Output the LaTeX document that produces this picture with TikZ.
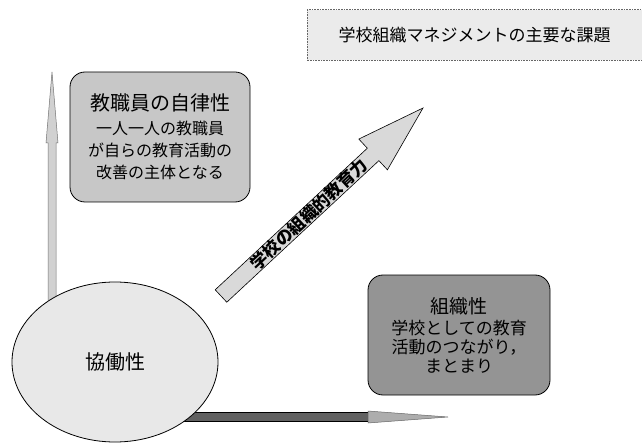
\documentclass[tikz,border=0pt]{standalone}
\usepackage{fontspec}
\setmainfont{Noto Sans CJK JP}
\usetikzlibrary{calc,shapes.geometric}
\pgfdeclarelayer{bg}
\pgfsetlayers{bg,main}
\begin{document}
\begin{tikzpicture}[x=1pt,y=-1pt,
  rbox/.style={draw=black, line width=0.8pt, rounded corners=15pt, align=center, inner sep=0pt},
  varrow/.style={draw=black!55, line width=0.5pt, fill=black!18},
  hshaft/.style={draw=black, line width=0.6pt, fill=black!62},
  hhead/.style={draw=black!60, line width=0.5pt, fill=black!32},
  darrow/.style={draw=black, line width=0.6pt, fill=black!15}]
\useasboundingbox (0,0) rectangle (642,446);

% title
\node[fill=black!8, minimum width=335, minimum height=50, inner sep=0pt,
      font=\fontsize{17}{20}\selectfont] (title) at (474.5,35) {学校組織マネジメントの主要な課題};
\draw[black!60, densely dotted, line width=0.6pt] (title.north east) -- (title.north west) -- (title.south west) -- (title.south east);

% boxes
\node[rbox, fill=black!22, minimum width=180, minimum height=130,
      font=\fontsize{16}{22}\selectfont] (tl) at (160,137)
  {{\fontsize{20}{22}\selectfont 教職員の自律性}\\[2pt]一人一人の教職員\\が自らの教育活動の\\改善の主体となる};

\node[rbox, fill=black!42, minimum width=182, minimum height=120,
      font=\fontsize{17}{19}\selectfont] (br) at (459,335)
  {{\fontsize{19}{19}\selectfont 組織性}\\[2pt]学校としての教育\\活動のつながり，\\まとまり};

% ellipse
\node[ellipse, draw=black, line width=0.8pt, fill=black!9, minimum width=206, minimum height=160,
      inner sep=0pt, font=\fontsize{20}{22}\selectfont] (circ) at (115,362) {協働性};

% arrows
\coordinate (vtip) at (52,72);
\coordinate (htip) at (448,417);
\coordinate (dtail) at (221,296);
\coordinate (dtip) at (423,108);
\coordinate (dbase) at ($(dtail)!0.753!(dtip)$);

\begin{pgfonlayer}{bg}
\draw[varrow] ($(vtip)+(-4,250)$) -- ($(vtip)+(-4,71)$) -- ($(vtip)+(-6,71)$) -- (vtip)
   -- ($(vtip)+(6,71)$) -- ($(vtip)+(4,71)$) -- ($(vtip)+(4,250)$) -- cycle;
\draw[hshaft] ($(htip)+(-320,-4.5)$) -- ($(htip)+(-80,-4.5)$) -- ($(htip)+(-80,4.5)$) -- ($(htip)+(-320,4.5)$) -- cycle;
\end{pgfonlayer}
\draw[hhead] ($(htip)+(-80,-6)$) -- (htip) -- ($(htip)+(-80,6)$) -- cycle;

\draw[darrow] ($(dtail)!8.5pt!90:(dtip)$) -- ($(dbase)!8.5pt!90:(dtip)$) -- ($(dbase)!21pt!90:(dtip)$)
   -- (dtip) -- ($(dbase)!21pt!-90:(dtip)$) -- ($(dbase)!8.5pt!-90:(dtip)$)
   -- ($(dtail)!8.5pt!-90:(dtip)$) -- cycle;
\node[rotate=43, inner sep=0pt, font=\bfseries\fontsize{17}{17}\selectfont] (dlabel)
   at ($(dtail)!0.435!(dtip)$) {学校の組織的教育力};
\end{tikzpicture}
\end{document}
